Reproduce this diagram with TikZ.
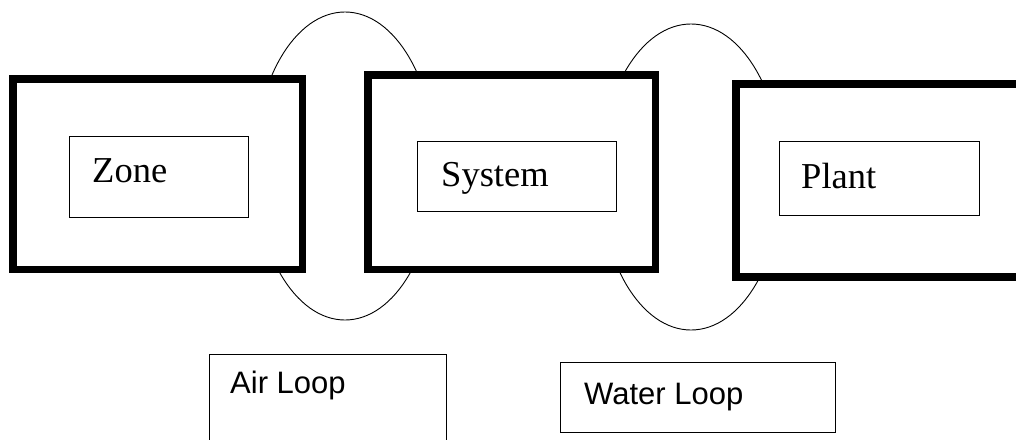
\documentclass[tikz,border=0pt]{standalone}
\usepackage{fontspec}
\setmainfont{Liberation Serif}
\newfontfamily\labelsans{Liberation Sans}
\usetikzlibrary{shapes.geometric}

\tikzset{
  loopring/.style={draw=black, line width=0.9pt, ellipse, inner sep=0pt},
  outerbox/.style={draw=black, fill=white, line width=7.5pt, rectangle, inner sep=0pt},
  innerbox/.style={draw=black, fill=white, line width=1.2pt, rectangle, inner sep=0pt},
  loopbox/.style={draw=black, fill=white, line width=1.5pt, rectangle, inner sep=0pt},
  unitlabel/.style={anchor=base west, inner sep=0pt, font=\fontsize{36.5}{40}\selectfont},
  looplabel/.style={anchor=base west, inner sep=0pt, font=\labelsans\fontsize{31}{36}\selectfont},
}

\begin{document}
\begin{tikzpicture}[x=1pt, y=-1pt]
  \useasboundingbox (0,0) rectangle (1016,439);
  \clip (0,0) rectangle (1016,439);

  % loops linking neighbouring units (drawn first, the boxes cover their middles)
  \node[loopring, minimum width=181pt, minimum height=308pt] (airring) at (345,166) {};
  \node[loopring, minimum width=182pt, minimum height=306pt] (waterring) at (691,177) {};

  % heavy outer frames
  \node[outerbox, minimum width=289.5pt, minimum height=190.5pt] (zone) at (157.5,174) {};
  \node[outerbox, minimum width=287.5pt, minimum height=194.5pt] (system) at (511.5,172) {};
  \node[outerbox, minimum width=294.25pt, minimum height=193pt] (plant) at (882.9,180.25) {};

  % inner name boxes
  \node[innerbox, minimum width=179pt, minimum height=81pt] (zonein) at (159,177) {};
  \node[innerbox, minimum width=199pt, minimum height=70pt] (systemin) at (517,176.5) {};
  \node[innerbox, minimum width=200pt, minimum height=74pt] (plantin) at (879.5,178.5) {};

  \node[unitlabel] (zonetxt) at (92,182) {Zone};
  \node[unitlabel] (systemtxt) at (441,186) {System};
  \node[unitlabel] (planttxt) at (801,188) {Plant};

  % loop legend boxes
  \node[loopbox, minimum width=237pt, minimum height=165.5pt] (airbox) at (328,437.25) {};
  \node[loopbox, minimum width=275pt, minimum height=70pt] (waterbox) at (698,397.5) {};

  \node[looplabel] (airtxt) at (230,393) {Air Loop};
  \node[looplabel] (watertxt) at (584,404) {Water Loop};
\end{tikzpicture}
\end{document}
